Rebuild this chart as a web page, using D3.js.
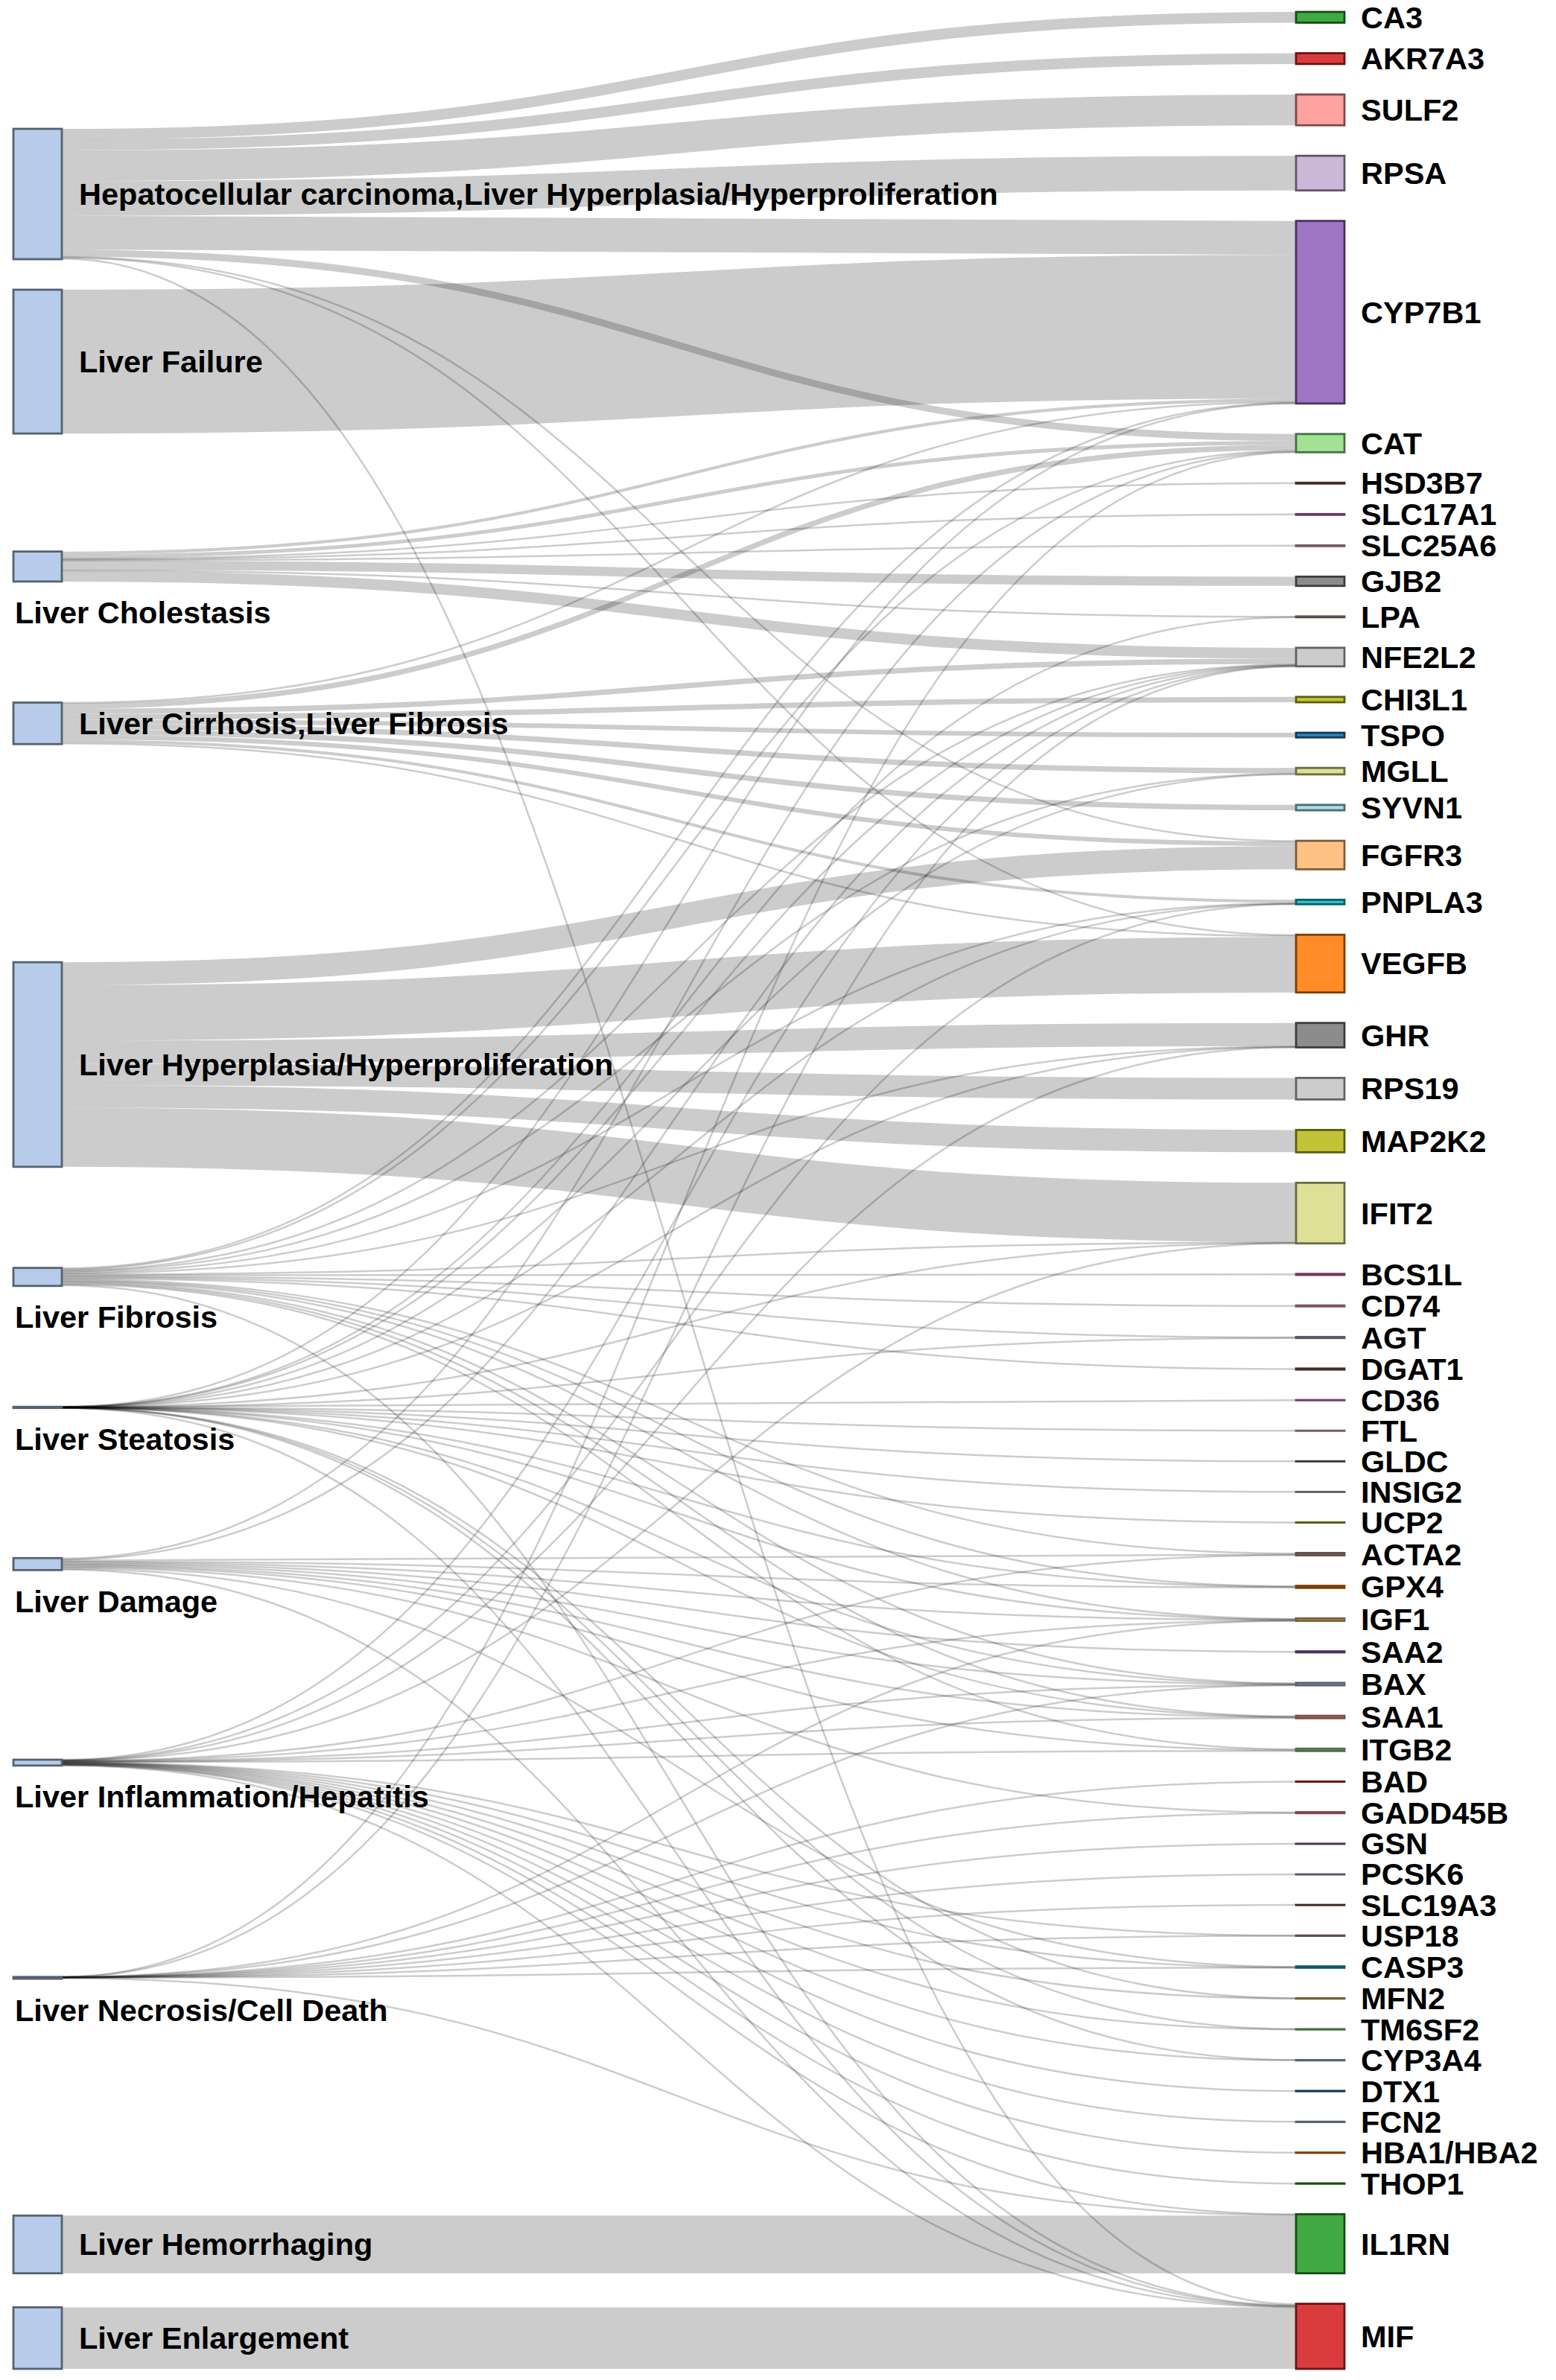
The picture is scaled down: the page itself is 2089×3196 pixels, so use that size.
<!DOCTYPE html>
<html><head><meta charset="utf-8">
<script src="https://cdn.jsdelivr.net/npm/d3@7"></script>
<style>html,body{margin:0;padding:0;background:#fff}</style>
</head><body><svg id="chart"></svg>
<script>
// ---------------- DATA ----------------
const diseases = [
  "Hepatocellular carcinoma,Liver Hyperplasia/Hyperproliferation",
  "Liver Failure",
  "Liver Cholestasis",
  "Liver Cirrhosis,Liver Fibrosis",
  "Liver Hyperplasia/Hyperproliferation",
  "Liver Fibrosis",
  "Liver Steatosis",
  "Liver Damage",
  "Liver Inflammation/Hepatitis",
  "Liver Necrosis/Cell Death",
  "Liver Hemorrhaging",
  "Liver Enlargement"
];
const genes = ["CA3","AKR7A3","SULF2","RPSA","CYP7B1","CAT","HSD3B7","SLC17A1","SLC25A6","GJB2","LPA","NFE2L2","CHI3L1","TSPO","MGLL","SYVN1","FGFR3","PNPLA3","VEGFB","GHR","RPS19","MAP2K2","IFIT2","BCS1L","CD74","AGT","DGAT1","CD36","FTL","GLDC","INSIG2","UCP2","ACTA2","GPX4","IGF1","SAA2","BAX","SAA1","ITGB2","BAD","GADD45B","GSN","PCSK6","SLC19A3","USP18","CASP3","MFN2","TM6SF2","CYP3A4","DTX1","FCN2","HBA1/HBA2","THOP1","IL1RN","MIF"];

const hccLinks = [["CA3",14],["AKR7A3",14],["SULF2",40],["RPSA",45],["CYP7B1",44],["CAT",9],["FGFR3",1],["VEGFB",1],["MIF",1.5]];
const failureLinks = [["CYP7B1",187]];
const cholestasisLinks = [["CYP7B1",4],["CAT",5],["HSD3B7",1],["SLC17A1",1],["SLC25A6",1],["GJB2",12],["LPA",1],["NFE2L2",14]];
const cirrhosisLinks = [["CYP7B1",1],["CAT",7],["NFE2L2",7],["CHI3L1",7],["TSPO",6],["MGLL",7],["SYVN1",7],["FGFR3",6],["PNPLA3",4],["VEGFB",2]];
const hyperplasiaLinks = [["FGFR3",30],["VEGFB",72],["GHR",30],["RPS19",28],["MAP2K2",29],["IFIT2",77]];
const fibrosisLinks = [["CYP7B1",1.3],["CAT",1.3],["NFE2L2",1.3],["MGLL",1.3],["PNPLA3",1.3],["GHR",1.3],["IFIT2",1.3],["BCS1L",1.3],["CD74",1.3],["AGT",1.3],["DGAT1",1.3],["ACTA2",1.3],["GPX4",1.3],["IGF1",1.3],["BAX",1.3],["SAA1",1.3],["ITGB2",1.3],["MIF",1.3]];
const steatosisLinks = [["CYP7B1",0.07],["LPA",0.07],["NFE2L2",0.07],["MGLL",0.07],["PNPLA3",0.07],["GHR",0.07],["IFIT2",0.07],["AGT",0.07],["CD36",0.07],["FTL",0.07],["GLDC",0.07],["INSIG2",0.07],["UCP2",0.07],["GPX4",0.07],["IGF1",0.07],["BAX",0.07],["SAA1",0.07],["MFN2",0.07],["TM6SF2",0.07],["CYP3A4",0.07],["MIF",0.09]];
const damageLinks = [["CAT",1.3],["NFE2L2",1.3],["ACTA2",1.3],["GPX4",1.3],["IGF1",1.3],["SAA2",1.3],["BAX",1.3],["SAA1",1.3],["ITGB2",1.3],["GADD45B",1.3],["CASP3",1.3],["MIF",1.3]];
const inflammationLinks = [["NFE2L2",0.38],["PNPLA3",0.38],["GHR",0.38],["IFIT2",0.38],["ACTA2",0.38],["IGF1",0.38],["BAX",0.38],["SAA1",0.38],["ITGB2",0.38],["USP18",0.38],["CASP3",0.38],["MFN2",0.38],["TM6SF2",0.38],["CYP3A4",0.38],["DTX1",0.38],["FCN2",0.38],["HBA1/HBA2",0.38],["THOP1",0.38],["IL1RN",0.38],["MIF",0.38]];
const necrosisLinks = [["CAT",0.08],["NFE2L2",0.08],["IGF1",0.08],["BAX",0.08],["BAD",0.08],["GADD45B",0.08],["GSN",0.08],["PCSK6",0.08],["SLC19A3",0.08],["USP18",0.08],["CASP3",0.08],["IL1RN",1.42]];
const hemorrhagingLinks = [["IL1RN",75]];
const enlargementLinks = [["MIF",80]];

const linksByDisease = [hccLinks, failureLinks, cholestasisLinks, cirrhosisLinks, hyperplasiaLinks, fibrosisLinks, steatosisLinks, damageLinks, inflammationLinks, necrosisLinks, hemorrhagingLinks, enlargementLinks];

// ---------------- STYLE ----------------
const diseaseColor = "#aec7e8";
const geneColor = {
  "CA3":"#2ca02c","AKR7A3":"#d62728","SULF2":"#ff9896","RPSA":"#c5b0d5","CYP7B1":"#9467bd","CAT":"#98df8a",
  "HSD3B7":"#8c564b","SLC17A1":"#e377c2","SLC25A6":"#f7b6d2","GJB2":"#7f7f7f","LPA":"#c49c94","NFE2L2":"#c7c7c7",
  "CHI3L1":"#bcbd22","TSPO":"#1f77b4","MGLL":"#dbdb8d","SYVN1":"#9edae5","FGFR3":"#ffbb78","PNPLA3":"#17becf",
  "VEGFB":"#ff7f0e","GHR":"#7f7f7f","RPS19":"#c7c7c7","MAP2K2":"#bcbd22","IFIT2":"#dbdb8d","BCS1L":"#e377c2",
  "CD74":"#f7b6d2","AGT":"#c5b0d5","DGAT1":"#8c564b","CD36":"#e377c2","FTL":"#f7b6d2","GLDC":"#7f7f7f",
  "INSIG2":"#c7c7c7","UCP2":"#bcbd22","ACTA2":"#c49c94","GPX4":"#ff7f0e","IGF1":"#ffbb78","SAA2":"#9467bd",
  "BAX":"#aec7e8","SAA1":"#ff9896","ITGB2":"#98df8a","BAD":"#d62728","GADD45B":"#ff9896","GSN":"#9467bd",
  "PCSK6":"#c5b0d5","SLC19A3":"#8c564b","USP18":"#c49c94","CASP3":"#17becf","MFN2":"#ffbb78","TM6SF2":"#98df8a",
  "CYP3A4":"#9edae5","DTX1":"#1f77b4","FCN2":"#aec7e8","HBA1/HBA2":"#ff7f0e","THOP1":"#2ca02c","IL1RN":"#2ca02c","MIF":"#d62728"
};

// ---------------- LAYOUT ----------------
const W = 2089, H = 3196;
const nodeW = 65, xLeft = 18, xRight = 1740;
const top0 = 16, bottom1 = 3181, pad = 41;
const fontSize = 41.5;

const nodes = new Map();
diseases.forEach((d, i) => nodes.set("L:" + d, {name: d, side: 0, index: i, ins: [], outs: []}));
genes.forEach((g, i) => nodes.set("R:" + g, {name: g, side: 1, index: i, ins: [], outs: []}));
const links = [];
linksByDisease.forEach((arr, i) => arr.forEach(([g, v]) => {
  const l = {source: nodes.get("L:" + diseases[i]), target: nodes.get("R:" + g), value: v};
  links.push(l); l.source.outs.push(l); l.target.ins.push(l);
}));
nodes.forEach(n => n.value = Math.max(d3.sum(n.ins, l => l.value), d3.sum(n.outs, l => l.value)));
const left = diseases.map(d => nodes.get("L:" + d));
const right = genes.map(g => nodes.get("R:" + g));

const ky = d3.min([left, right], c => (bottom1 - top0 - (c.length - 1) * pad) / d3.sum(c, n => n.value));
const vScale = d3.scaleLinear().domain([0, 1]).range([0, ky]);

links.forEach(l => l.width = vScale(l.value));
let yy = top0;
right.forEach(n => { n.y0 = yy; n.y1 = yy + vScale(n.value); yy = n.y1 + pad; n.x0 = xRight; });
nodes.forEach(n => {
  n.outs.sort((a, b) => a.target.index - b.target.index);
  n.ins.sort((a, b) => a.source.index - b.source.index);
  let o = 0; n.outs.forEach(l => { l.sOff = o; o += l.width; });
  o = 0; n.ins.forEach(l => { l.tOff = o; o += l.width; });
});
left.forEach(n => {
  const w = d3.sum(n.outs, l => l.width);
  const y = d3.sum(n.outs, l => l.width * (l.target.y0 + l.tOff - l.sOff)) / w;
  n.y0 = y; n.y1 = y + vScale(n.value); n.x0 = xLeft;
});
yy = top0;
left.forEach(n => { const dy = yy - n.y0; if (dy > 0) { n.y0 += dy; n.y1 += dy; } yy = n.y1 + pad; });
if (yy - pad > bottom1) {
  let lim = bottom1;
  for (let i = left.length - 1; i >= 0; i--) {
    const n = left[i]; const dy = n.y1 - lim;
    if (dy > 0) { n.y0 -= dy; n.y1 -= dy; }
    lim = n.y0 - pad;
  }
}
links.forEach(l => {
  l.ys = l.source.y0 + l.sOff + l.width / 2;
  l.yt = l.target.y0 + l.tOff + l.width / 2;
});

// ---------------- DRAW ----------------
const svg = d3.select("#chart").attr("width", W).attr("height", H)
  .style("font-family", "'Liberation Sans', Arial, Helvetica, sans-serif");
svg.append("rect").attr("width", W).attr("height", H).attr("fill", "#fff");

const linkGen = d3.linkHorizontal();
svg.append("g").attr("fill", "none").attr("stroke", "#000").attr("stroke-opacity", 0.2)
  .selectAll("path").data(links).join("path")
  .attr("d", l => linkGen({source: [xLeft + nodeW, l.ys], target: [xRight, l.yt]}))
  .attr("stroke-width", l => Math.max(2.5, l.width));

const allNodes = left.concat(right);
svg.append("g").selectAll("rect").data(allNodes).join("rect")
  .attr("x", n => n.x0).attr("y", n => n.y0)
  .attr("width", nodeW).attr("height", n => Math.max(0.2, n.y1 - n.y0))
  .attr("fill", n => n.side === 0 ? diseaseColor : geneColor[n.name])
  .attr("fill-opacity", 0.9)
  .attr("stroke", n => d3.rgb(n.side === 0 ? diseaseColor : geneColor[n.name]).darker(2))
  .attr("stroke-width", 2.8);

const labels = svg.append("g").attr("font-size", fontSize).attr("font-weight", "bold").attr("fill", "#000");
labels.selectAll("text.r").data(right).join("text").attr("class", "r")
  .attr("x", xRight + nodeW + 22).attr("y", n => (n.y0 + n.y1) / 2).attr("dy", "0.35em")
  .text(n => n.name);
labels.selectAll("text.l").data(left).join("text").attr("class", "l")
  .attr("x", n => (n.y1 - n.y0) >= 50 ? xLeft + nodeW + 23 : xLeft + 2)
  .attr("y", n => (n.y1 - n.y0) >= 50 ? (n.y0 + n.y1) / 2 : n.y1 + 42)
  .attr("dy", "0.35em")
  .text(n => n.name);
</script>
</body></html>
